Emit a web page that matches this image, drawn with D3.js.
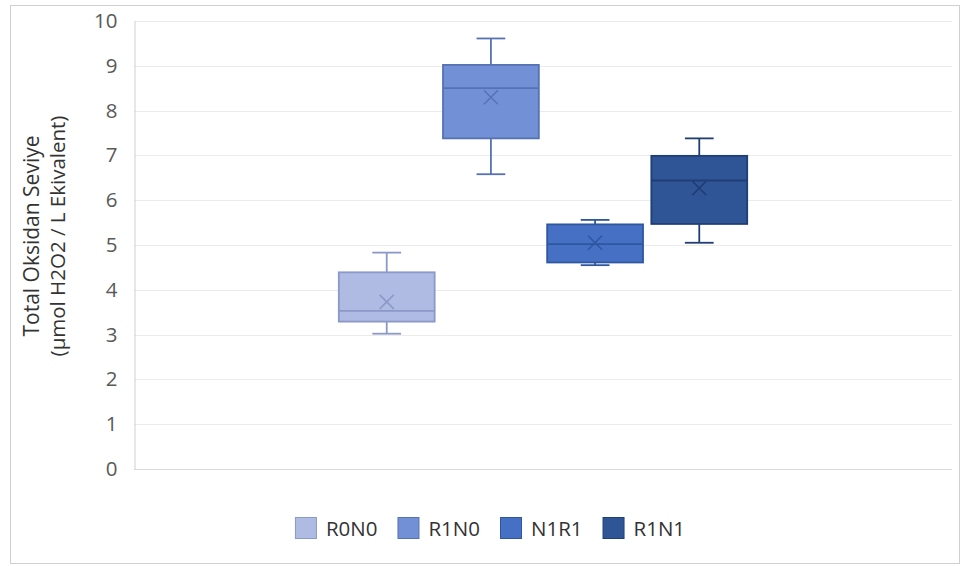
<!DOCTYPE html>
<html>
<head>
<meta charset="utf-8">
<script src="https://cdn.jsdelivr.net/npm/d3@7/dist/d3.min.js"></script>
<style>
  html, body { margin: 0; padding: 0; background: #fff; }
  svg { display: block; }
  text { font-family: "Open Sans", "Noto Sans", sans-serif; }
</style>
</head>
<body>
<svg id="chart" width="960" height="566"></svg>
<script>
// Groups and their five-number summaries (plus mean)
const groups   = ["R0N0", "R1N0", "N1R1", "R1N1"];
const mins     = [3.02, 6.58, 4.55, 5.05];
const q1s      = [3.29, 7.38, 4.61, 5.47];
const medians  = [3.53, 8.50, 5.02, 6.44];
const q3s      = [4.39, 9.02, 5.46, 6.99];
const maxs     = [4.83, 9.61, 5.56, 7.38];
const means    = [3.73, 8.30, 5.05, 6.27];
const yTicks   = [0, 1, 2, 3, 4, 5, 6, 7, 8, 9, 10];

const fills   = ["#afbbe2", "#7290d6", "#4670c4", "#2f5597"];
const strokes = ["#8b98c8", "#5772b3", "#2f579f", "#203e74"];

const yTitle1 = "Total Oksidan Seviye";
const yTitle2 = "(µmol H2O2 / L Ekivalent)";

const svg = d3.select("#chart");

// Outer chart frame
svg.append("rect")
  .attr("x", 10.5).attr("y", 5.5)
  .attr("width", 949).attr("height", 558)
  .attr("fill", "#fff").attr("stroke", "#d0d0d0").attr("stroke-width", 1);

const plot = { left: 134, right: 952, top: 21, bottom: 469 };

const y = d3.scaleLinear().domain([0, 10]).range([plot.bottom, plot.top]);

// Single category holding the four series
const xCat = d3.scaleBand().domain(["all"]).range([plot.left, plot.right])
  .paddingInner(0.334).paddingOuter(0.334);
const xSer = d3.scaleBand().domain(groups)
  .range([xCat("all"), xCat("all") + xCat.bandwidth()])
  .paddingInner(0.08).paddingOuter(0);

// Gridlines
svg.append("g")
  .selectAll("line").data(yTicks).join("line")
  .attr("x1", plot.left).attr("x2", plot.right)
  .attr("y1", d => Math.round(y(d)) + 0.5).attr("y2", d => Math.round(y(d)) + 0.5)
  .attr("stroke", d => d === 0 ? "#d9d9d9" : "#ebebeb").attr("stroke-width", 1);

// Y axis
const yAxis = d3.axisLeft(y).tickValues(yTicks).tickSize(0).tickPadding(17);
const gy = svg.append("g").attr("transform", `translate(${plot.left + 0.5},0)`).call(yAxis);
gy.select(".domain").attr("stroke", "#d0d0d0");
gy.selectAll("text")
  .attr("fill", "#595959").attr("font-size", 20.5)
  .attr("font-family", "'Open Sans', sans-serif");

// Axis title (two lines, rotated)
const titleG = svg.append("g").attr("transform", "translate(0,236) rotate(-90)");
titleG.append("text").attr("x", 0).attr("y", 39)
  .attr("text-anchor", "middle").attr("font-size", 21).attr("fill", "#333")
  .text(yTitle1);
titleG.append("text").attr("x", 0).attr("y", 65)
  .attr("text-anchor", "middle").attr("font-size", 20.5).attr("fill", "#333")
  .text(yTitle2);

// Boxes
const data = groups.map((g, i) => ({
  g, i, min: mins[i], q1: q1s[i], med: medians[i], q3: q3s[i], max: maxs[i], mean: means[i]
}));

const boxes = svg.append("g").selectAll("g").data(data).join("g");
const bw = xSer.bandwidth();
const capW = bw * 0.3;

boxes.each(function(d) {
  const g = d3.select(this);
  const cx = xSer(d.g) + bw / 2;
  const col = strokes[d.i];
  // whiskers
  g.append("line").attr("x1", cx).attr("x2", cx)
    .attr("y1", y(d.max)).attr("y2", y(d.q3))
    .attr("stroke", col).attr("stroke-width", 1.8);
  g.append("line").attr("x1", cx).attr("x2", cx)
    .attr("y1", y(d.q1)).attr("y2", y(d.min))
    .attr("stroke", col).attr("stroke-width", 1.8);
  // caps
  [d.max, d.min].forEach(v => {
    g.append("line").attr("x1", cx - capW / 2).attr("x2", cx + capW / 2)
      .attr("y1", y(v)).attr("y2", y(v))
      .attr("stroke", col).attr("stroke-width", 1.8);
  });
  // box
  g.append("rect")
    .attr("x", xSer(d.g)).attr("width", bw)
    .attr("y", y(d.q3)).attr("height", y(d.q1) - y(d.q3))
    .attr("fill", fills[d.i]).attr("stroke", col).attr("stroke-width", 1.8);
  // median
  g.append("line").attr("x1", xSer(d.g)).attr("x2", xSer(d.g) + bw)
    .attr("y1", y(d.med)).attr("y2", y(d.med))
    .attr("stroke", col).attr("stroke-width", 1.8);
  // mean marker (x)
  const s = 7;
  const my = y(d.mean);
  g.append("path")
    .attr("d", `M${cx - s},${my - s}L${cx + s},${my + s}M${cx - s},${my + s}L${cx + s},${my - s}`)
    .attr("stroke", col).attr("stroke-width", 1.5).attr("fill", "none");
});

// Legend
const legend = svg.append("g").attr("transform", "translate(0,517)");
let lx = 0;
const items = legend.selectAll("g").data(groups).join("g");
items.each(function(name, i) {
  const g = d3.select(this);
  g.append("rect").attr("x", 0.5).attr("y", 0.5).attr("width", 21).attr("height", 21)
    .attr("fill", fills[i]).attr("stroke", strokes[i]).attr("stroke-width", 1);
  const t = g.append("text").attr("x", 31).attr("y", 19)
    .attr("font-size", 20.5).attr("fill", "#333").text(name);
  const w = 31 + t.node().getComputedTextLength();
  g.attr("transform", `translate(${lx},0)`);
  lx += w + 20;
});
const legendW = lx - 20;
legend.attr("transform", `translate(${490 - legendW / 2},517)`);
</script>
</body>
</html>
